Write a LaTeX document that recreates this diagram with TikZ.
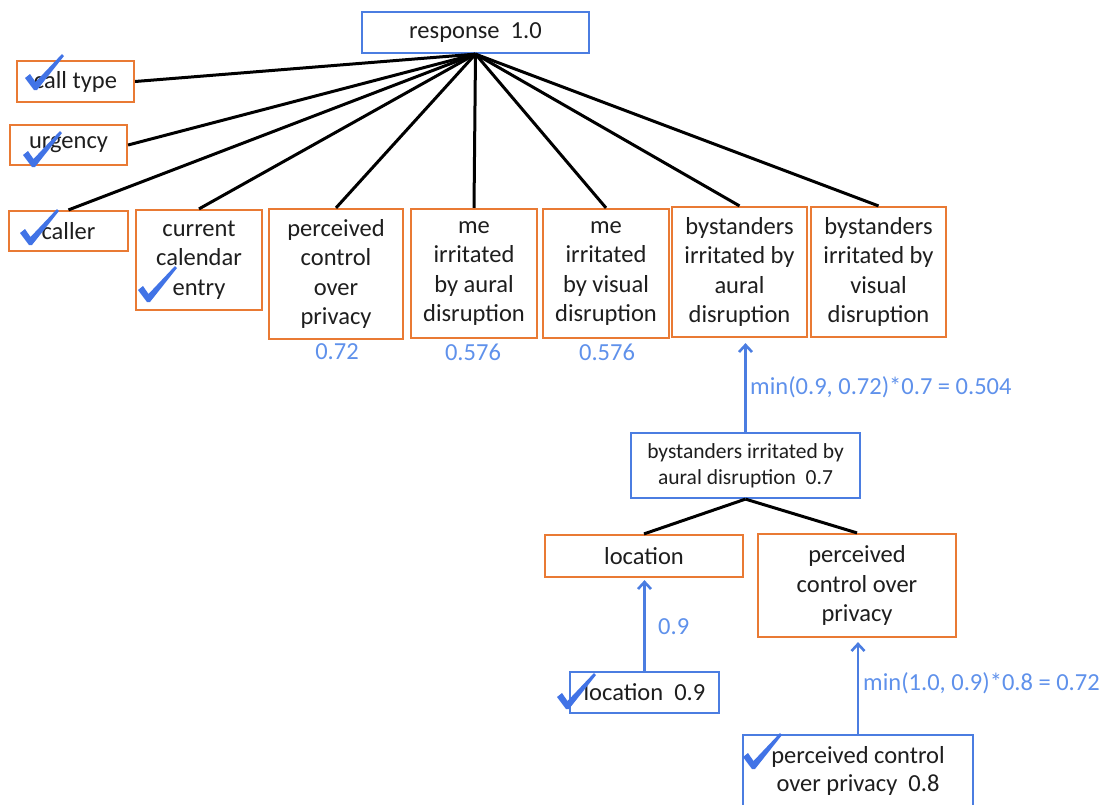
\documentclass[tikz,border=0pt]{standalone}
\usepackage{fontspec}
\setmainfont{Carlito}
\usetikzlibrary{arrows.meta}
\definecolor{orng}{RGB}{233,122,52}
\definecolor{boxblue}{RGB}{75,125,225}
\definecolor{textblue}{RGB}{95,145,235}
\definecolor{tickblue}{RGB}{65,115,230}
\definecolor{txt}{RGB}{30,30,30}
\begin{document}
\begin{tikzpicture}[x=1pt,y=-1pt,
  obox/.style={draw=orng, line width=2.2pt, fill=white, align=center, inner sep=0pt, text=txt, font=\fontsize{24.5}{29.5}\selectfont},
  bbox/.style={draw=boxblue, line width=2.2pt, fill=white, align=center, inner sep=0pt, text=txt},
  conn/.style={draw=black, line width=3pt},
  uparrow/.style={draw=boxblue, line width=2.6pt, -{Straight Barb[length=7pt,width=13pt]}},
  lbl/.style={text=textblue, font=\fontsize{24.5}{29}\selectfont, inner sep=0pt},
  checkmk/.pic={\fill[tickblue] (-10,-10) -- (-5,-14) -- (0.5,-6) -- (27,-34) -- (29,-32) -- (2,2) -- (-1,2) -- cycle;}
]
\useasboundingbox (0,0) rectangle (1109,804);
\clip (0,0) rectangle (1109,804);

% top node
\node[bbox, minimum width=227pt, minimum height=41pt, font=\fontsize{24.5}{29.5}\selectfont] (resp) at (475.5,32.5) {response~~1.0};

% first-level nodes
\node[obox, minimum width=117pt, minimum height=41pt] (calltype) at (75.5,81.5) {call type};
\node[obox, minimum width=117pt, minimum height=40pt] (urgency) at (68.5,145) {urgency};
\node[obox, minimum width=119pt, minimum height=40pt] (caller) at (68.5,231) {caller};
\node[obox, minimum width=126pt, minimum height=100pt] (calendar) at (199,260) {current\\calendar\\entry};
\node[obox, minimum width=134pt, minimum height=130pt] (pcop) at (336,274) {perceived\\control\\over\\privacy};
\node[obox, minimum width=126pt, minimum height=129pt] (meaural) at (474,273.5) {me\\irritated\\by aural\\disruption};
\node[obox, minimum width=126pt, minimum height=129pt] (mevisual) at (606,273.5) {me\\irritated\\by visual\\disruption};
\node[obox, minimum width=135pt, minimum height=130pt] (bysaural) at (739.5,272) {bystanders\\irritated by\\aural\\disruption};
\node[obox, minimum width=135pt, minimum height=130pt] (bysvisual) at (878.5,272) {bystanders\\irritated by\\visual\\disruption};

% values
\node[lbl] (v1) at (337,352) {0.72};
\node[lbl] (v2) at (473,352) {0.576};
\node[lbl] (v3) at (607,352) {0.576};

% lower part
\node[bbox, minimum width=229pt, minimum height=65pt, font=\fontsize{21.5}{26}\selectfont] (bys07) at (745.5,465.5) {bystanders irritated by\\aural disruption~~0.7};
\node[obox, minimum width=198pt, minimum height=42pt] (location) at (644,556) {location};
\node[obox, minimum width=198pt, minimum height=103pt] (pclow) at (857,585.5) {perceived\\control over\\privacy};
\node[bbox, minimum width=149pt, minimum height=41pt, font=\fontsize{24.5}{29.5}\selectfont] (loc09) at (644.5,692.5) {location~~0.9};
\node[bbox, minimum width=230pt, minimum height=72pt, font=\fontsize{24.5}{28}\selectfont] (pc08) at (858,771) {perceived control\\over privacy~~0.8};

% connectors
\draw[conn] (resp.south) -- (calltype.east);
\draw[conn] (resp.south) -- (urgency.east);
\foreach \n in {caller,calendar,pcop,meaural,mevisual,bysaural,bysvisual}
  \draw[conn] (resp.south) -- (\n.north);
\draw[conn] (bys07.south) -- (location.north);
\draw[conn] (bys07.south) -- (pclow.north);

% arrows and labels
\draw[uparrow, shorten >=5pt] (bys07.north) -- (bys07.north |- bysaural.south);
\draw[uparrow, shorten >=2pt] (loc09.north) -- (loc09.north |- location.south);
\draw[uparrow, shorten >=4pt] (pc08.north) -- (pc08.north |- pclow.south);
\node[lbl, anchor=west] (l1) at (750,387) {min(0.9, 0.72)*0.7 = 0.504};
\node[lbl, anchor=west] (l2) at (658,627) {0.9};
\node[lbl, anchor=west] (l3) at (863,683) {min(1.0, 0.9)*0.8 = 0.72};

% check marks
\pic at (35,88) {checkmk};
\pic at (33,165) {checkmk};
\pic at (30,243) {checkmk};
\pic at (148,300) {checkmk};
\pic at (567,707) {checkmk};
\pic at (753,767) {checkmk};
\end{tikzpicture}
\end{document}
